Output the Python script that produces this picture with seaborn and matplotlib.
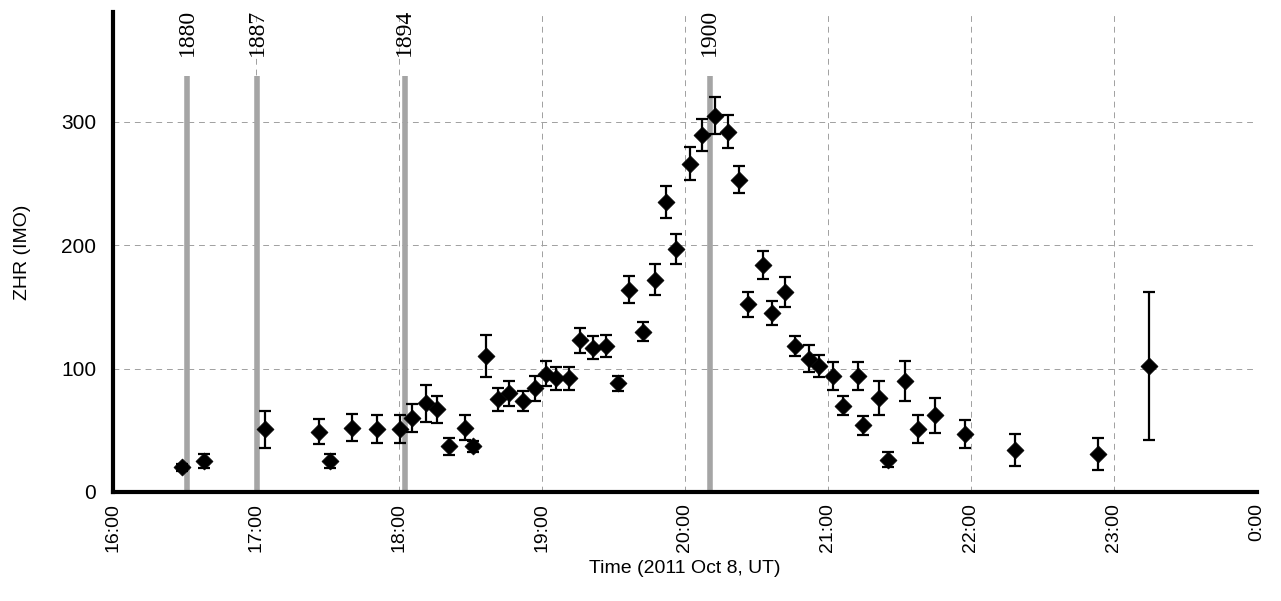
import matplotlib
matplotlib.use("Agg")
import matplotlib.pyplot as plt
import seaborn as sns
import pandas as pd

# observation times (decimal hours UT, 2011 Oct 8), ZHR and error
hours = [16.48, 16.64, 17.06, 17.44, 17.52, 17.67, 17.85, 18.01, 18.09, 18.19,
         18.27, 18.35, 18.46, 18.52, 18.61, 18.69, 18.77, 18.87, 18.95, 19.03,
         19.10, 19.19, 19.27, 19.36, 19.45, 19.53, 19.61, 19.71, 19.79, 19.87,
         19.94, 20.04, 20.12, 20.21, 20.30, 20.38, 20.44, 20.55, 20.61, 20.70,
         20.77, 20.87, 20.94, 21.04, 21.11, 21.21, 21.25, 21.36, 21.42, 21.54,
         21.63, 21.75, 21.96, 22.31, 22.89, 23.25]
zhr = [20, 25, 51, 49, 25, 52, 51, 51, 60, 72,
       67, 37, 52, 37, 110, 75, 80, 74, 84, 96,
       92, 92, 123, 117, 118, 88, 164, 130, 172, 235,
       197, 266, 289, 305, 292, 253, 152, 184, 145, 162,
       118, 108, 102, 94, 70, 94, 54, 76, 26, 90,
       51, 62, 47, 34, 31, 102]
zhr_err = [3, 5.5, 15, 10, 5.5, 11, 11, 11, 11, 15,
           11, 7, 10, 4.5, 17, 9, 10, 8, 10, 10.5,
           9, 9, 10, 9, 9, 6, 11, 8, 12.5, 13,
           12, 13.5, 13, 15, 13.5, 11, 10, 11.5, 10, 12,
           8, 11, 9, 11, 7.5, 11.5, 7.5, 14, 6, 16,
           11, 14.5, 11, 12.6, 13, 60]

# dust trails (predicted encounter times)
trail_years = ["1880", "1887", "1894", "1900"]
trail_hours = [16.52, 17.01, 18.04, 20.175]

tick_hours = [16, 17, 18, 19, 20, 21, 22, 23, 24]
tick_labels = ["16:00", "17:00", "18:00", "19:00", "20:00", "21:00", "22:00", "23:00", "0:00"]

df = pd.DataFrame({"hour": hours, "zhr": zhr, "err": zhr_err})

sns.set_style("white")
plt.rcParams["font.family"] = ["Liberation Sans", "DejaVu Sans"]
plt.rcParams["text.color"] = "black"
plt.rcParams["axes.labelcolor"] = "black"
plt.rcParams["xtick.color"] = "black"
plt.rcParams["ytick.color"] = "black"

fig = plt.figure(figsize=(12.81, 6.01), dpi=100)
ax = fig.add_axes([0.0882, 0.1814, 0.8927, 0.7987])

ax.grid(True, color="#a0a0a0", linestyle=(0, (6, 5)), linewidth=0.7)
ax.set_axisbelow(True)

# trail markers
ax.vlines(trail_hours, 0, 337, colors="#a5a5a5", linewidth=4, zorder=1.5)
for yr, h in zip(trail_years, trail_hours):
    ax.text(h, 353, yr, rotation=90, ha="center", va="bottom",
            family="Liberation Serif", fontsize=17, clip_on=False)

ax.errorbar(df["hour"], df["zhr"], yerr=df["err"], fmt="none", ecolor="black",
            elinewidth=1.6, capsize=4.5, capthick=1.6, zorder=2)
sns.scatterplot(data=df, x="hour", y="zhr", marker="D", s=75, color="black",
                edgecolor="black", linewidth=0.5, zorder=3, ax=ax)

ax.set_xlim(16, 24)
ax.set_ylim(0, 389)
ax.set_xticks(tick_hours)
ax.set_xticklabels(tick_labels, rotation=90)
ax.set_yticks([0, 100, 200, 300])
ax.tick_params(axis="both", direction="in", length=5, width=3)
ax.tick_params(axis="x", pad=8, labelsize=14)
ax.tick_params(axis="y", pad=12, labelsize=15)

for side in ["top", "right"]:
    ax.spines[side].set_visible(False)
for side in ["left", "bottom"]:
    ax.spines[side].set_linewidth(3)
    ax.spines[side].set_color("black")

ax.set_xlabel("Time (2011 Oct 8, UT)", fontsize=14, labelpad=6)
ax.set_ylabel("ZHR (IMO)", fontsize=14, labelpad=22)

fig.savefig("out.png", dpi=100)
